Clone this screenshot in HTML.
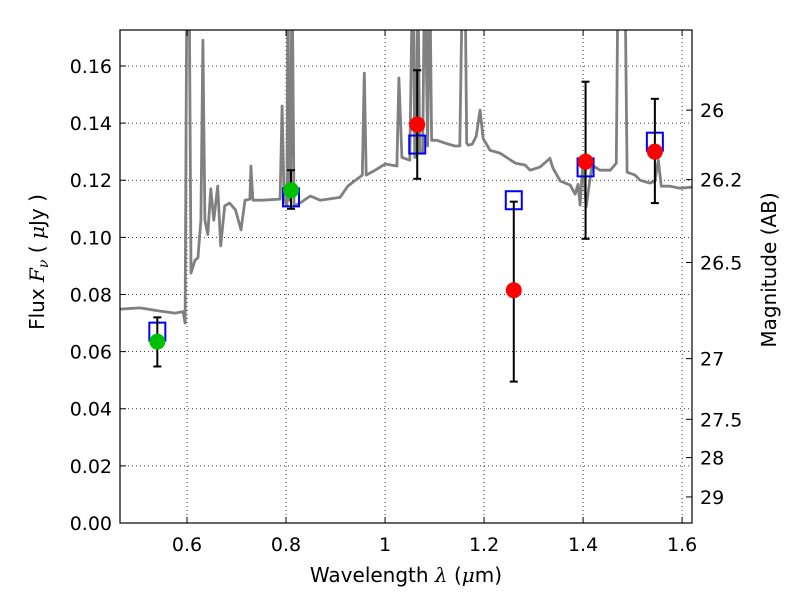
<!DOCTYPE html>
<html><head><meta charset="utf-8"><style>
body{margin:0;background:#fff;}
svg text{font-family:"DejaVu Sans","Liberation Sans",sans-serif;}
</style></head><body>
<svg id="chart" width="800" height="600" xmlns="http://www.w3.org/2000/svg"></svg>
<script>
const specWl=[0.4646,0.505,0.5455,0.576,0.592,0.596,0.600,0.604,0.608,0.616,0.622,0.628,0.632,0.636,0.642,0.648,0.654,0.662,0.668,0.676,0.686,0.698,0.709,0.717,0.727,0.729,0.733,0.752,0.788,0.792,0.796,0.802,0.804,0.806,0.809,0.812,0.816,0.828,0.849,0.869,0.909,0.925,0.939,0.954,0.958,0.962,0.980,1.0,1.024,1.028,1.034,1.05,1.056,1.060,1.063,1.066,1.070,1.076,1.080,1.086,1.090,1.094,1.105,1.121,1.141,1.151,1.157,1.161,1.165,1.168,1.176,1.184,1.192,1.198,1.212,1.232,1.263,1.283,1.293,1.313,1.329,1.333,1.339,1.354,1.374,1.384,1.390,1.394,1.400,1.406,1.418,1.434,1.455,1.467,1.471,1.476,1.484,1.489,1.505,1.515,1.535,1.545,1.552,1.558,1.576,1.596,1.62];
const specF=[0.0749,0.0753,0.0742,0.0735,0.074,0.070,0.2,0.2,0.0875,0.092,0.0928,0.106,0.169,0.106,0.101,0.117,0.106,0.118,0.097,0.111,0.112,0.1096,0.1026,0.113,0.1134,0.125,0.113,0.113,0.1134,0.146,0.113,0.111,0.2,0.113,0.113,0.2,0.111,0.112,0.1145,0.113,0.114,0.118,0.1198,0.1218,0.1575,0.1218,0.1235,0.1257,0.125,0.1558,0.128,0.127,0.2,0.128,0.128,0.2,0.130,0.130,0.2,0.132,0.2,0.134,0.134,0.133,0.132,0.132,0.2,0.2,0.133,0.1323,0.1326,0.1354,0.1446,0.1347,0.1305,0.1295,0.1260,0.1253,0.1235,0.1246,0.127,0.1277,0.1243,0.1197,0.1183,0.1151,0.1186,0.1113,0.127,0.1106,0.1253,0.1235,0.1235,0.126,0.2,0.2,0.2,0.1228,0.1218,0.1200,0.1190,0.1197,0.127,0.1179,0.1179,0.1172,0.1176];
const photWl=[0.54,0.81,1.065,1.26,1.405,1.545];
const photF=[0.0635,0.1165,0.1395,0.0815,0.1265,0.130];
const photLo=[0.0548,0.1100,0.1205,0.0495,0.0995,0.112];
const photHi=[0.0720,0.1235,0.1585,0.1125,0.1545,0.1485];
const photGreen=[true,true,false,false,false,false];
const modelF=[0.067,0.114,0.1325,0.113,0.1245,0.1335];
const xTicks=[0.6,0.8,1.0,1.2,1.4,1.6];
const xTickLabels=["0.6","0.8","1","1.2","1.4","1.6"];
const yTicks=[0,0.02,0.04,0.06,0.08,0.10,0.12,0.14,0.16];
const yTickLabels=["0.00","0.02","0.04","0.06","0.08","0.10","0.12","0.14","0.16"];
const magTicks=[26,26.2,26.5,27,27.5,28,29];
const magTickLabels=["26","26.2","26.5","27","27.5","28","29"];

const L=120,R=692,T=30,B=523,xmin=0.4646,xmax=1.62,ymin=0,ymax=0.1726;
const X=v=>L+(v-xmin)/(xmax-xmin)*(R-L);
const Y=v=>B-(v-ymin)/(ymax-ymin)*(B-T);
const NS="http://www.w3.org/2000/svg";
const svg=document.getElementById('chart');
function mk(tag,attrs,parent){const e=document.createElementNS(NS,tag);for(const k in attrs)e.setAttribute(k,attrs[k]);(parent||svg).appendChild(e);return e;}

const defs=mk('defs',{});
const cp=mk('clipPath',{id:'clip'},defs);
mk('rect',{x:L,y:T,width:R-L,height:B-T},cp);

const grid=mk('g',{});


xTicks.forEach(v=>mk('line',{x1:X(v),x2:X(v),y1:T,y2:B,stroke:'#000','stroke-width':0.8,'stroke-dasharray':'1,3'},grid));
yTicks.forEach(v=>mk('line',{x1:L,x2:R,y1:Y(v),y2:Y(v),stroke:'#000','stroke-width':0.8,'stroke-dasharray':'1,3'},grid));

let d='';specWl.forEach((w,i)=>{d+=(i?'L':'M')+X(w).toFixed(1)+','+Y(specF[i]).toFixed(1);});
const sp=mk('path',{d:d,fill:'none',stroke:'#808080','stroke-width':2.8,'clip-path':'url(#clip)','stroke-linejoin':'round'});



photWl.forEach((w,i)=>{
 const r=mk('rect',{x:X(w)-8,y:Y(modelF[i])-9,width:16,height:18,fill:'none',stroke:'#0000ff','stroke-width':2});
 
 
});
photWl.forEach((w,i)=>{
 const g=mk('g',{});
 
 
 const x=X(w);
 mk('line',{x1:x,x2:x,y1:Y(photLo[i]),y2:Y(photHi[i]),stroke:'#000','stroke-width':2},g);
 mk('line',{x1:x-4,x2:x+4,y1:Y(photLo[i]),y2:Y(photLo[i]),stroke:'#000','stroke-width':2},g);
 mk('line',{x1:x-4,x2:x+4,y1:Y(photHi[i]),y2:Y(photHi[i]),stroke:'#000','stroke-width':2},g);
 mk('circle',{cx:x,cy:Y(photF[i]),r:8,fill:photGreen[i]?'#00c000':'#ff0000'},g);
});

const fr=mk('rect',{x:L,y:T,width:R-L,height:B-T,fill:'none',stroke:'#000','stroke-width':1.2});



xTicks.forEach((v,i)=>{
 mk('line',{x1:X(v),x2:X(v),y1:B,y2:B-6,stroke:'#000'});
 mk('line',{x1:X(v),x2:X(v),y1:T,y2:T+6,stroke:'#000'});
 const t=mk('text',{x:X(v),y:B+28,'font-size':19,'text-anchor':'middle'});t.textContent=xTickLabels[i];
 
 
});
yTicks.forEach((v,i)=>{
 mk('line',{x1:L,x2:L+6,y1:Y(v),y2:Y(v),stroke:'#000'});
 const t=mk('text',{x:L-8,y:Y(v)+7,'font-size':19,'text-anchor':'end'});t.textContent=yTickLabels[i];
 
 
});
magTicks.forEach((m,i)=>{
 const f=Math.pow(10,(23.9-m)/2.5);
 mk('line',{x1:R,x2:R-6,y1:Y(f),y2:Y(f),stroke:'#000'});
 const t=mk('text',{x:R+8,y:Y(f)+7,'font-size':19});t.textContent=magTickLabels[i];
 
 
});
</script>
<svg width="800" height="600" style="position:absolute;left:0;top:0" xmlns="http://www.w3.org/2000/svg">
<text x="406" y="582" font-size="20" text-anchor="middle" font-family="DejaVu Sans, sans-serif">Wavelength  <tspan font-style="italic" font-family="DejaVu Serif, serif">λ</tspan> (<tspan font-style="italic" font-family="DejaVu Serif, serif">μ</tspan>m)</text>
<text transform="translate(44,262) rotate(-90)" font-size="20" text-anchor="middle" font-family="DejaVu Sans, sans-serif">Flux  <tspan font-style="italic" font-family="DejaVu Serif, serif">F</tspan><tspan font-style="italic" font-size="14" dy="4" font-family="DejaVu Serif, serif">ν</tspan><tspan dy="-4">  ( </tspan><tspan font-style="italic" font-family="DejaVu Serif, serif">μ</tspan>Jy )</text>
<text transform="translate(776,270) rotate(-90)" font-size="20" text-anchor="middle" font-family="DejaVu Sans, sans-serif">Magnitude (AB)</text>
</svg>
</body></html>
